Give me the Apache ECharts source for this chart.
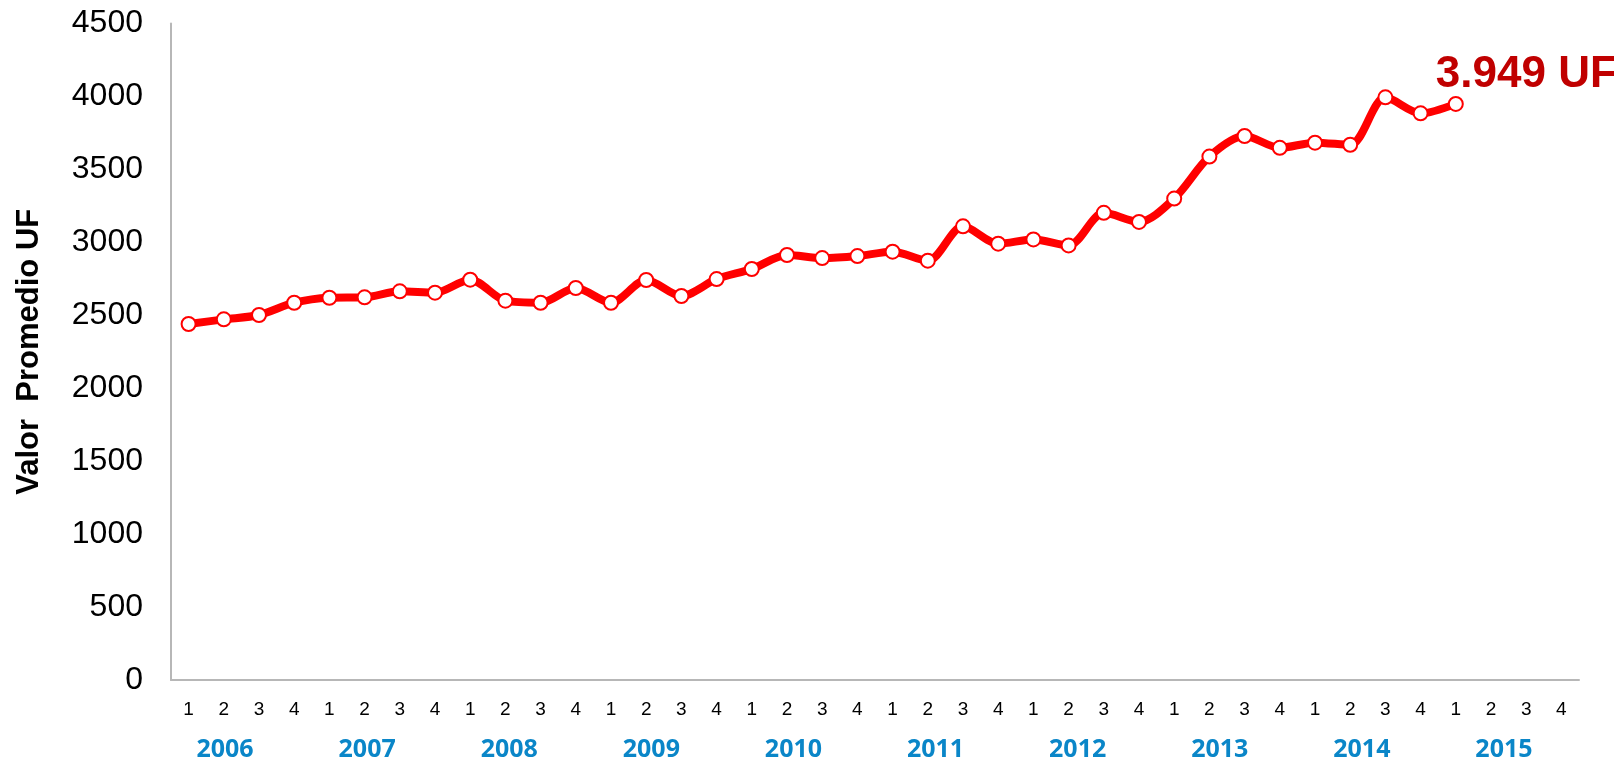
<!DOCTYPE html>
<html><head><meta charset="utf-8">
<script src="https://cdn.jsdelivr.net/npm/echarts@6/dist/echarts.min.js"></script>
<style>html,body{margin:0;padding:0;background:#fff}#c{width:1614px;height:763px}</style>
</head><body><div id="c"></div>
<script>
const years = ['2006','2007','2008','2009','2010','2011','2012','2013','2014','2015'];
const quarters = ['1','2','3','4'];
const values = [2440,2472,2502,2586,2620,2623,2664,2655,2744,2600,2586,2687,2586,2742,2632,2748,2817,2913,2892,2906,2936,2874,3110,2991,3020,2979,3202,3140,3300,3588,3729,3648,3683,3669,3994,3884,3949];
const lastLabel = '3.949 UF';
const yTicks = [0,500,1000,1500,2000,2500,3000,3500,4000,4500];

const categories = [];
years.forEach(y => quarters.forEach(q => categories.push(y + '-' + q)));
const seriesData = categories.map((c, i) => i < values.length ? values[i] : null);
const lastIdx = values.length - 1;
const data = seriesData.map((v, i) => i === lastIdx ? {
  value: v,
  label: {show: true, formatter: lastLabel, position: [-12, -21], align: 'left', verticalAlign: 'middle',
    fontFamily: 'Liberation Sans', fontWeight: 'bold', fontSize: 44, color: '#C00000'}
} : v);

const chart = echarts.init(document.getElementById('c'));
chart.setOption({
  animation: false,
  grid: [
    {left: 171, right: 35, top: 23.5, bottom: 83},
    {left: 154, right: 39, top: 23.5, bottom: 83}
  ],
  xAxis: [{
    type: 'category', data: categories, boundaryGap: true, gridIndex: 0,
    axisLine: {lineStyle: {color: '#B7B7B7', width: 2}},
    axisTick: {show: false},
    axisLabel: {interval: 0, margin: 20, fontFamily: 'Liberation Sans', fontSize: 19, color: '#000',
      formatter: v => v.split('-')[1]}
  }, {
    type: 'category', data: years, position: 'bottom', boundaryGap: true, gridIndex: 1,
    axisLine: {show: false}, axisTick: {show: false}, splitLine: {show: false},
    axisLabel: {interval: 0, margin: 57, fontFamily: 'Open Sans', fontWeight: 'bold', fontSize: 25, color: '#0A86C8'}
  }],
  yAxis: [{
    type: 'value', min: yTicks[0], max: yTicks[yTicks.length - 1], interval: 500, gridIndex: 0,
    name: 'Valor  Promedio UF', nameLocation: 'middle', nameGap: 126, nameRotate: 90,
    nameTextStyle: {fontFamily: 'Liberation Sans', fontWeight: 'bold', fontSize: 31, color: '#000'},
    axisLine: {show: true, lineStyle: {color: '#B7B7B7', width: 2}},
    axisTick: {show: false},
    splitLine: {show: false},
    axisLabel: {margin: 28, fontFamily: 'Liberation Sans', fontSize: 32, color: '#000', formatter: v => String(v)}
  }, {
    type: 'value', gridIndex: 1, show: false, splitLine: {show: false}
  }],
  series: [{
    type: 'line', data: data, smooth: 0.3, connectNulls: false, xAxisIndex: 0, yAxisIndex: 0,
    lineStyle: {color: '#FF0000', width: 8},
    symbol: 'circle', symbolSize: 14,
    itemStyle: {color: '#FFFFFF', borderColor: '#FF0000', borderWidth: 2}
  }]
});
</script></body></html>
